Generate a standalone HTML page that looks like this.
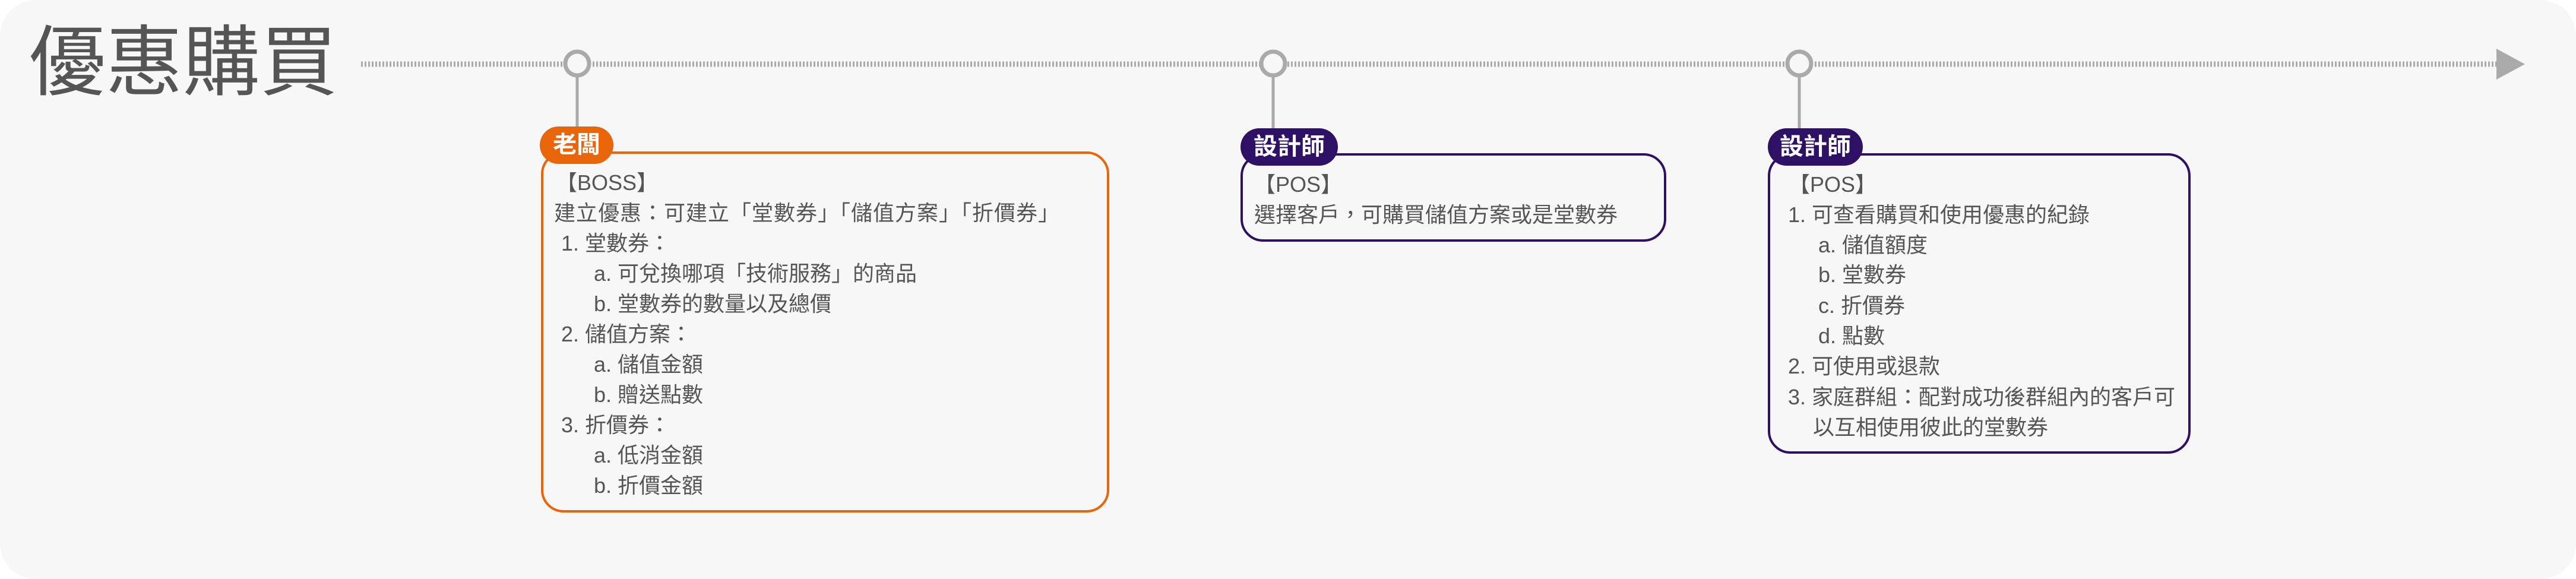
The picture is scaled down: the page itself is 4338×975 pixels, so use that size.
<!DOCTYPE html>
<html><head><meta charset="utf-8"><style>
body{margin:0;width:4338px;height:975px;background:#fff;overflow:hidden;font-family:"Liberation Sans","Noto Sans CJK TC",sans-serif;}
#c{position:absolute;left:0;top:0;width:4338px;height:975px;background:#f7f7f7;border-radius:60px;}
.t{position:absolute;white-space:nowrap;font-size:36px;color:#555;line-height:40px;}
.box{position:absolute;border-radius:38px;box-sizing:border-box;}
.tag{position:absolute;height:63px;border-radius:32px;color:#fff;font-weight:bold;font-size:40px;line-height:63px;text-align:center;}
</style></head><body><div id="c">
<div class="t" style="left:48px;top:30px;font-size:130px;line-height:150px;color:#555;">優惠購買</div>
<svg width="4338" height="975" style="position:absolute;left:0;top:0">
<line x1="608" y1="108" x2="4210" y2="108" stroke="#aaa" stroke-width="9" stroke-dasharray="3 3"/>
<polygon points="4204,82 4252,108 4204,134" fill="#aaa"/>
<g stroke="#aaa" stroke-width="5" fill="#f7f7f7">
<line x1="972" y1="130" x2="972" y2="215"/>
<line x1="2144" y1="130" x2="2144" y2="218"/>
<line x1="3030" y1="130" x2="3030" y2="218"/>
<circle cx="972" cy="107" r="20" stroke-width="7"/>
<circle cx="2144" cy="107" r="20" stroke-width="7"/>
<circle cx="3030" cy="107" r="20" stroke-width="7"/>
</g></svg>
<div class="box" style="left:911px;top:255px;width:957px;height:608px;border:4px solid #e8650a;"></div>
<div class="tag" style="left:909px;top:213px;width:124px;background:#e8650a;">老闆</div>
<div class="t" style="left:936px;top:288px">【BOSS】</div>
<div class="t" style="left:933px;top:339px;letter-spacing:1px">建立優惠：可建立「堂數券」「儲值方案」「折價券」</div>
<div class="t" style="left:945px;top:390px">1. 堂數券：</div>
<div class="t" style="left:1000px;top:441px">a. 可兌換哪項「技術服務」的商品</div>
<div class="t" style="left:1000px;top:492px">b. 堂數券的數量以及總價</div>
<div class="t" style="left:945px;top:543px">2. 儲值方案：</div>
<div class="t" style="left:1000px;top:594px">a. 儲值金額</div>
<div class="t" style="left:1000px;top:645px">b. 贈送點數</div>
<div class="t" style="left:945px;top:696px">3. 折價券：</div>
<div class="t" style="left:1000px;top:747px">a. 低消金額</div>
<div class="t" style="left:1000px;top:798px">b. 折價金額</div>

<div class="box" style="left:2089px;top:258px;width:717px;height:149px;border:4px solid #2e1065;"></div>
<div class="tag" style="left:2089px;top:216px;width:164px;background:#2e1065;">設計師</div>
<div class="t" style="left:2112px;top:291px">【POS】</div>
<div class="t" style="left:2112px;top:342px">選擇客戶，可購買儲值方案或是堂數券</div>

<div class="box" style="left:2977px;top:258px;width:712px;height:506px;border:4px solid #2e1065;"></div>
<div class="tag" style="left:2977px;top:216px;width:160px;background:#2e1065;">設計師</div>
<div class="t" style="left:3012px;top:291px">【POS】</div>
<div class="t" style="left:3011px;top:342px">1. 可查看購買和使用優惠的紀錄</div>
<div class="t" style="left:3062px;top:393px">a. 儲值額度</div>
<div class="t" style="left:3062px;top:443px">b. 堂數券</div>
<div class="t" style="left:3062px;top:495px">c. 折價券</div>
<div class="t" style="left:3062px;top:546px">d. 點數</div>
<div class="t" style="left:3011px;top:597px">2. 可使用或退款</div>
<div class="t" style="left:3011px;top:649px">3. 家庭群組：配對成功後群組內的客戶可</div>
<div class="t" style="left:3053px;top:700px">以互相使用彼此的堂數券</div>
</div></body></html>
